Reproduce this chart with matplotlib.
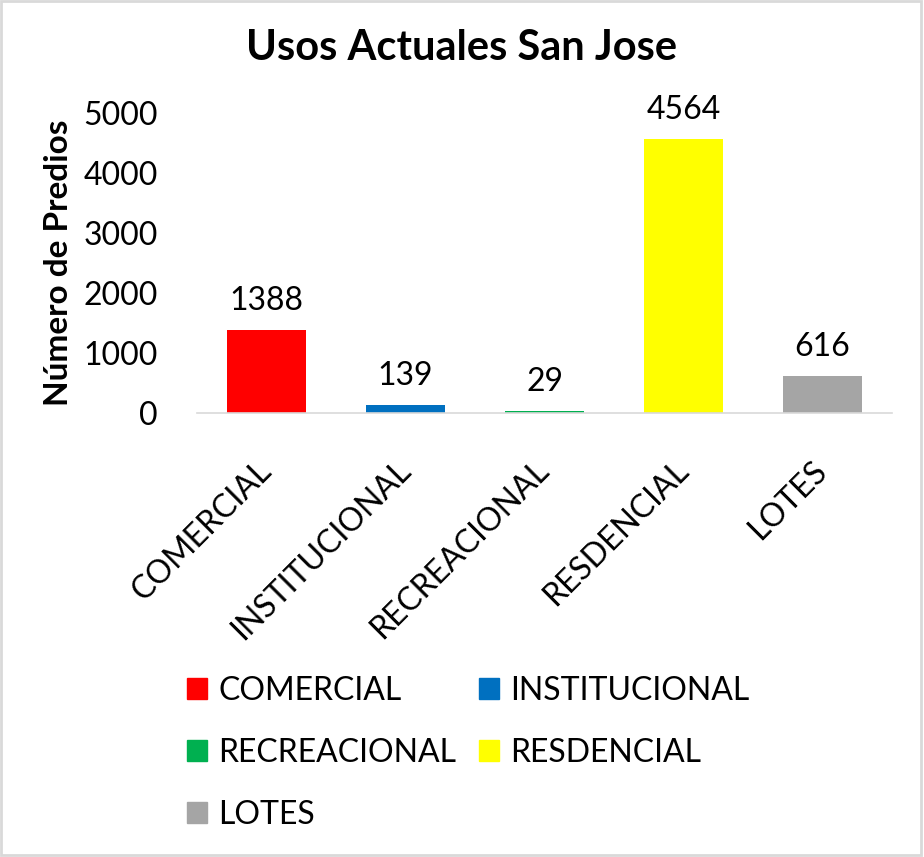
import matplotlib.pyplot as plt
from matplotlib.patches import Patch

# --- Datos ---
categorias = ["COMERCIAL", "INSTITUCIONAL", "RECREACIONAL", "RESDENCIAL", "LOTES"]
valores = [1388, 139, 29, 4564, 616]
colores = ["#FF0000", "#0070C0", "#00B050", "#FFFF00", "#A5A5A5"]
yticks = [0, 1000, 2000, 3000, 4000, 5000]

plt.rcParams['font.family'] = ['Lato', 'DejaVu Sans']
fs = 23

fig = plt.figure(figsize=(9.24, 8.57), dpi=100)
ax = fig.add_axes([197 / 924, 1 - 413 / 857, 695 / 924, 300 / 857])

x = range(len(categorias))
ax.bar(x, valores, width=0.575, color=colores)

# --- Etiquetas de datos ---
for xi, v in zip(x, valores):
    ax.annotate(str(v), (xi, v), xytext=(0, 10), textcoords="offset points",
                ha="center", va="bottom", fontsize=fs)

ax.set_xlim(-0.5, len(categorias) - 0.5)
ax.set_ylim(0, 5000)
ax.set_yticks(yticks)
ax.set_yticklabels([str(t) for t in yticks], fontsize=fs)
ax.set_xticks(list(x))
ax.set_xticklabels(categorias, rotation=45, ha="right", va="center",
                   rotation_mode="anchor", fontsize=fs)
ax.tick_params(axis="y", length=0, pad=28)
ax.tick_params(axis="x", length=0, pad=38)

for s in ["top", "right", "left"]:
    ax.spines[s].set_visible(False)
ax.spines["bottom"].set_color("#D9D9D9")
ax.spines["bottom"].set_linewidth(1.2)

ax.set_ylabel("Número de Predios", fontsize=24, fontweight="bold")
ax.yaxis.set_label_coords(-124 / 695, 0.5)
fig.text(0.5, 1 - 48 / 857, "Usos Actuales San Jose", ha="center", va="center",
         fontsize=30, fontweight="bold")

# --- Leyenda (orden por filas) ---
orden = [0, 2, 4, 1, 3]
handles = [Patch(color=colores[i], label=categorias[i]) for i in orden]
fig.legend(handles=handles, ncol=2, loc="upper left",
           bbox_to_anchor=(187 / 924, 1 - 676 / 857), frameon=False,
           fontsize=fs, handlelength=0.63, handleheight=0.63,
           handletextpad=0.35, columnspacing=0.7, labelspacing=1.0,
           borderpad=0, borderaxespad=0)

# --- Borde ---
fig.patches.append(plt.Rectangle((0.001, 0.002), 0.996, 0.997,
                                 transform=fig.transFigure, fill=False,
                                 edgecolor="#D9D9D9", linewidth=2))

fig.savefig("out.png", dpi=100)
